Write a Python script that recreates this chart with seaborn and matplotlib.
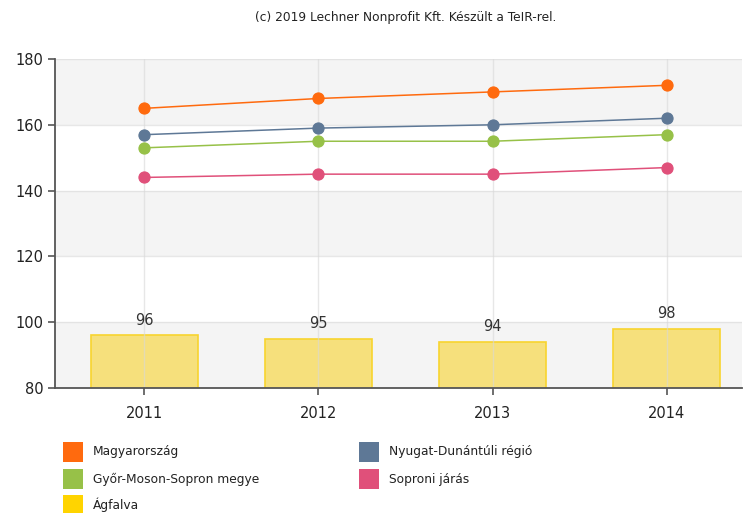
import matplotlib
matplotlib.use("Agg")
import matplotlib.pyplot as plt
from matplotlib.patches import Rectangle
import seaborn as sns
import pandas as pd

years = ["2011", "2012", "2013", "2014"]
magyarorszag = [165, 168, 170, 172]
nyugat_dunantul = [157, 159, 160, 162]
gyor_moson_sopron = [153, 155, 155, 157]
soproni_jaras = [144, 145, 145, 147]
agfalva = [96, 95, 94, 98]

series_names = ["Magyarország", "Nyugat-Dunántúli régió",
                "Győr-Moson-Sopron megye", "Soproni járás"]
series_values = [magyarorszag, nyugat_dunantul, gyor_moson_sopron, soproni_jaras]
series_colors = ["#FF6A0E", "#5E7896", "#97C148", "#E0507A"]
bar_name = "Ágfalva"
y_ticks = [80, 100, 120, 140, 160, 180]

sns.set_style("white")
plt.rcParams["font.family"] = ["Verdana", "DejaVu Sans"]

W, H = 743, 513
fig = plt.figure(figsize=(W / 100, H / 100), dpi=100)
ax = fig.add_axes([55 / W, 1 - 388 / H, (742 - 55) / W, (388 - 59) / H])

# alternating horizontal bands
for lo in (160, 120, 80):
    ax.axhspan(lo, lo + 20, color="#F4F4F4", zorder=0, lw=0)

bars_df = pd.DataFrame({"year": years, "value": agfalva})
sns.barplot(data=bars_df, x="year", y="value", ax=ax, color="#F6E07C",
            edgecolor="#F8D42E", linewidth=1.2, width=0.611, saturation=1,
            zorder=1)
for i, v in enumerate(agfalva):
    ax.text(i, v + 2.3, str(v), ha="center", va="bottom", fontsize=10.5,
            color="#333333", zorder=4)

lines_df = pd.DataFrame(
    [(y, n, v) for n, vals in zip(series_names, series_values)
     for y, v in zip(years, vals)],
    columns=["year", "series", "value"])
sns.pointplot(data=lines_df, x="year", y="value", hue="series",
              palette=dict(zip(series_names, series_colors)), ax=ax,
              markers="o", markersize=8, linewidth=1.1, legend=False,
              zorder=3)

ax.set_ylim(80, 180)
ax.set_xlim(-0.513, 3.433)
ax.set_yticks(y_ticks)
ax.set_xlabel("")
ax.set_ylabel("")
ax.set_axisbelow(False)
ax.grid(True, color="#D8D8D8", lw=1, alpha=0.6, zorder=1.5)
for s in ("top", "right"):
    ax.spines[s].set_visible(False)
for s in ("left", "bottom"):
    ax.spines[s].set_color("#555555")
    ax.spines[s].set_linewidth(1.3)
    ax.spines[s].set_zorder(5)
ax.tick_params(axis="both", length=5, color="#555555", labelsize=10.5,
               labelcolor="#222222", width=1.2, direction="out",
               left=True, bottom=True)
ax.tick_params(axis="x", pad=8)

fig.text(406 / W, 1 - 18 / H,
         "(c) 2019 Lechner Nonprofit Kft. Készült a TeIR-rel.",
         ha="center", va="center", fontsize=8.8, color="#222222")

# legend
legend_items = [
    (series_names[0], series_colors[0], 63, 452),
    (series_names[1], series_colors[1], 359, 452),
    (series_names[2], series_colors[2], 63, 479),
    (series_names[3], series_colors[3], 359, 479),
    (bar_name, "#FFD400", 63, 505),
]
for label, color, px, py in legend_items:
    fig.add_artist(Rectangle((px / W, 1 - (py + 10) / H), 20 / W, 20 / H,
                             transform=fig.transFigure, facecolor=color,
                             edgecolor="none"))
    fig.text((px + 30) / W, 1 - py / H, label, ha="left", va="center",
             fontsize=8.8, color="#222222")

fig.savefig("out.png", dpi=100)
